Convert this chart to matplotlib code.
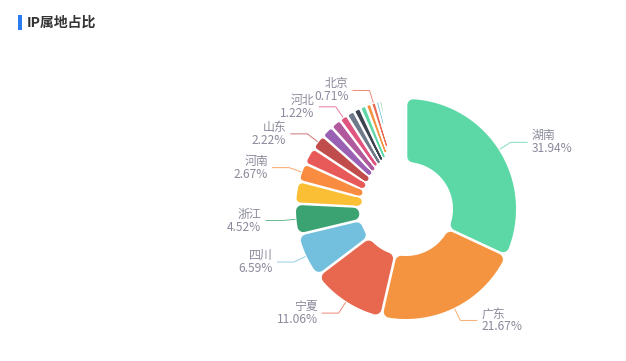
import numpy as np
import matplotlib
matplotlib.use("Agg")
import matplotlib.pyplot as plt
from matplotlib.patches import Polygon, Rectangle

plt.rcParams['font.family'] = ['Noto Sans CJK SC', 'DejaVu Sans']

# 数据：按占比从大到小（百分比），未标注名称的扇区用 None
names = ['湖南', '广东', '宁夏', '四川', '浙江', None, '河南', None, '山东',
         None, None, '河北', None, None, None, None, '北京', None, None]
values = [31.94, 21.67, 11.06, 6.59, 4.52, 3.30, 2.67, 2.50, 2.22,
          1.78, 1.56, 1.22, 1.16, 1.00, 0.90, 0.80, 0.71, 0.49, 0.42]
palette = ['#5cd8a6', '#f59440', '#e8674f', '#73c0de', '#3ba272', '#fbbf35',
           '#fa8c41', '#e85a5a', '#c04c4c', '#9a60b4', '#b0599c', '#e05580',
           '#6e7a8a', '#3d4451']

W, H = 626, 361
fig = plt.figure(figsize=(W / 100, H / 100), dpi=100)
ax = fig.add_axes([0, 0, 1, 1])
ax.set_xlim(0, W)
ax.set_ylim(H, 0)
ax.axis('off')

cx, cy = 406, 209
r0, r1 = 47, 110
half_gap = 1.3
d_max = 6.0
px = 0.72  # 1 像素 = 0.72 pt


def pt(r, phi):
    return cx + r * np.sin(phi), cy - r * np.cos(phi)


def sector(phi1, phi2):
    dphi = phi2 - phi1
    sh = np.sin(dphi / 2)
    w_out = r1 * sh - half_gap
    if w_out <= 0:
        return None, 0
    d = min(d_max, 0.4 * w_out)
    s = half_gap + d
    R = r1 - d
    rin = r0 + d
    rstar = s / sh if dphi < np.pi else 0
    if rstar >= R:
        return None, 0
    pts = []
    a = np.arcsin(s / R)
    for t in np.linspace(phi1 + a, phi2 - a, 60):
        pts.append(pt(R, t))
    if rstar > rin:
        rvis = max(r0, half_gap / sh)
        pts.append(pt(rstar, (phi1 + phi2) / 2))
        pts.append(pt(max(rvis, rstar - 0.6 * (rstar - rvis)), (phi1 + phi2) / 2))
    else:
        b = np.arcsin(s / rin)
        for t in np.linspace(phi2 - b, phi1 + b, 40):
            pts.append(pt(rin, t))
    return pts, d


start = 0.0
for i, v in enumerate(values):
    color = palette[i % len(palette)]
    phi1 = np.deg2rad(start / 100 * 360)
    phi2 = np.deg2rad((start + v) / 100 * 360)
    start += v
    pts, d = sector(phi1, phi2)
    if pts is not None:
        ax.add_patch(Polygon(pts, closed=True, facecolor=color, edgecolor=color,
                             linewidth=2 * d * px, joinstyle='round'))
    if names[i] is None:
        continue
    mid = (phi1 + phi2) / 2
    x0, y0 = pt(r1 + 1, mid)
    x1, y1 = pt(r1 + 14, mid)
    side = 1 if np.sin(mid) >= 0 else -1
    x2 = x1 + side * 17
    ax.plot([x0, x1, x2], [y0, y1, y1], color=color, alpha=0.75, lw=1 * px,
            solid_capstyle='butt')
    ax.text(x2 + side * 4, y1, f'{names[i]}\n{v:.2f}%', fontsize=8.6,
            color='#8a8a9c', ha='left' if side > 0 else 'right', va='center',
            linespacing=1.0)

# 标题
ax.add_patch(Rectangle((18, 15), 4, 15, facecolor='#2a7cf0', edgecolor='none'))
ax.text(27, 23, 'IP属地占比', fontsize=10, fontweight='bold', color='#333333',
        ha='left', va='center')

fig.savefig('out.png', dpi=100)
